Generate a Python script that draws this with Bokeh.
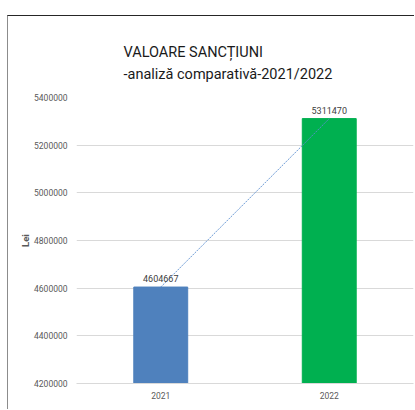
from bokeh.plotting import figure
from bokeh.models import FactorRange, Range1d, Title, ColumnDataSource, SingleIntervalTicker, NumeralTickFormatter
from bokeh.core.properties import value
from bokeh.embed import file_html
from bokeh.resources import INLINE

years = ["2021", "2022"]
amounts = [4604667, 5311470]
bar_colors = ["#4f81bd", "#00b050"]
labels = ["4604667", "5311470"]
title_lines = ["VALOARE SANCȚIUNI", "-analiză comparativă-2021/2022"]
y_label = "Lei"

AXIS_MIN = 4200000
FONT = "Roboto"

src = ColumnDataSource(dict(x=years, top=amounts, color=bar_colors, label=labels))

p = figure(x_range=FactorRange(*years), y_range=Range1d(AXIS_MIN, 5400000),
           width=407, height=394, output_backend="svg", toolbar_location=None,
           min_border_left=68, min_border_right=2, min_border_top=81, min_border_bottom=27)
p.styles = {"border-top": "1px solid #262626", "border-left": "1px solid #8c8c8c",
            "margin-top": "15px", "margin-left": "7px"}
p.outline_line_color = None
p.background_fill_color = "white"
p.border_fill_color = "white"

p.vbar(x="x", top="top", bottom=AXIS_MIN, width=0.32, color="color", source=src)
p.line(x="x", y="top", source=src, line_color="#5b8fd0", line_width=0.9, line_dash="2 1")
p.text(x="x", y="top", text="label", source=src, text_align="center", text_baseline="bottom",
       y_offset=-5, text_font_size="9px", text_color="#404040", text_font=value(FONT))

p.yaxis.ticker = SingleIntervalTicker(interval=200000)
p.yaxis.formatter = NumeralTickFormatter(format="0")
p.yaxis.axis_line_color = None
p.yaxis.major_tick_line_color = None
p.yaxis.minor_tick_line_color = None
p.yaxis.major_label_text_font = FONT
p.yaxis.major_label_text_font_size = "8.5px"
p.yaxis.major_label_text_color = "#595959"
p.yaxis.major_label_standoff = 3
p.yaxis.axis_label = y_label
p.yaxis.axis_label_text_font = FONT
p.yaxis.axis_label_text_font_size = "9.5px"
p.yaxis.axis_label_text_font_style = "bold"
p.yaxis.axis_label_text_color = "#595959"
p.yaxis.axis_label_standoff = 0

p.xaxis.axis_line_color = "#d9d9d9"
p.xaxis.major_tick_line_color = None
p.xaxis.minor_tick_line_color = None
p.xaxis.major_label_text_font = FONT
p.xaxis.major_label_text_font_size = "8.5px"
p.xaxis.major_label_text_color = "#595959"
p.xaxis.major_label_standoff = 2

p.xgrid.grid_line_color = None
p.ygrid.grid_line_color = "#d9d9d9"

p.title = Title(text="\n".join(title_lines), align="left", offset=47, standoff=29,
                text_font=FONT, text_font_size="14.5px", text_font_style="normal",
                text_line_height=1.3, text_color="#1a1a1a")

open("out.html", "w").write(file_html(p, INLINE))
